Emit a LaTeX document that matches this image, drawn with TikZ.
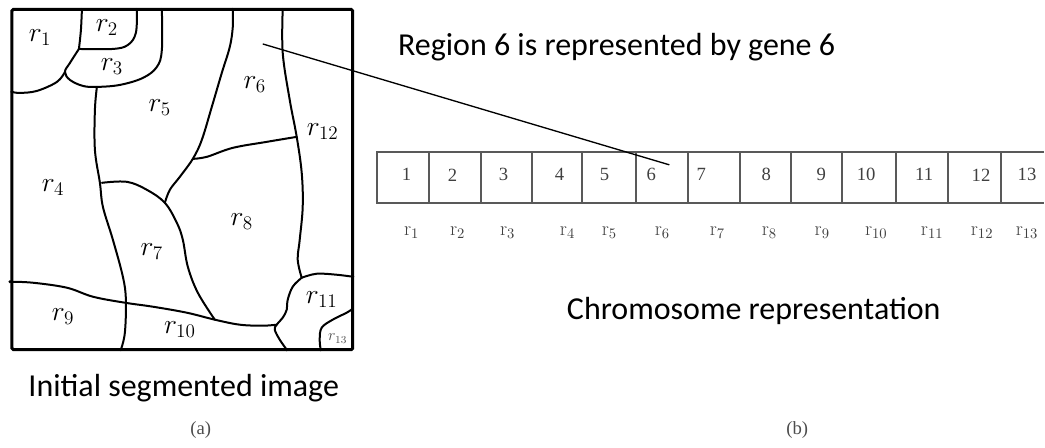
\documentclass[tikz,border=0pt]{standalone}
\usepackage{fontspec}
\newfontfamily\capfont{Carlito}
\newfontfamily\genefont{Liberation Serif}
\tikzset{every picture/.style={line width=0.75pt}}
\tikzset{
  seg/.style={line width=1.5pt, line cap=round, line join=round},
  regionlbl/.style={inner sep=0pt, font=\fontsize{22}{24}\selectfont},
  genenum/.style={inner sep=0pt, text=black!75, font=\genefont\fontsize{14}{16}\selectfont},
  genelbl/.style={inner sep=0pt, text=black!75, font=\genefont\fontsize{15}{16}\selectfont},
  captxt/.style={inner sep=0pt, anchor=base west, font=\capfont\fontsize{24}{26}\selectfont},
  subcap/.style={inner sep=0pt, text=black!70, font=\genefont\fontsize{14}{15}\selectfont},
  junc/.style={circle, fill=black, inner sep=0pt, minimum size=2.5pt}
}

\begin{document}
\begin{tikzpicture}[x=0.75pt,y=0.75pt,yscale=-1,xscale=1]
\path (0,0) rectangle (1045,448); %set diagram size

%Shape: Square [id:frame]
\draw [line width=2.25pt, rounded corners=1pt] (12,9.5) rectangle (353,350);

%Curve Lines: region borders
\draw [seg] plot [smooth, tension=0.6] coordinates {(82,9) (81,30) (79,49)};
\draw [seg] plot [smooth, tension=0.6] coordinates {(79,49) (113,49) (128,45) (136,33) (137,9)};
\draw [seg] plot [smooth, tension=0.6] coordinates {(79,49) (70,63) (65,72) (70,80) (83,86) (97,87) (120,85) (143,78) (157,67) (162,50) (162,9)};
\draw [seg] plot [smooth, tension=0.6] coordinates {(12,92) (20,93) (37,91) (57,82) (65,72)};
\draw [seg] plot [smooth, tension=0.6] coordinates {(97,87) (95,110) (95,150) (100,183) (103,207) (113,240) (123,277) (126,300) (125,333) (121,350)};
\draw [seg] plot [smooth, tension=0.6] coordinates {(102,183) (127,182) (147,190) (165,203) (177,223) (183,240) (188,267) (198,293) (215,320)};
\draw [seg] plot [smooth, tension=0.6] coordinates {(233,9) (233,27) (230,47) (222,73) (212,107) (202,140) (193,159) (180,177) (170,190) (165,203)};
\draw [seg] plot [smooth, tension=0.6] coordinates {(193,159) (207,157) (233,148) (267,142) (297,137)};
\draw [seg] plot [smooth, tension=0.6] coordinates {(283,9) (283,53) (290,100) (297,137) (302,173) (303,207) (300,240) (298,260) (302,278)};
\draw [seg] plot [smooth, tension=0.6] coordinates {(302,278) (317,274) (337,275) (353,277)};
\draw [seg] plot [smooth, tension=0.6] coordinates {(302,278) (293,287) (288,300) (287,310) (283,318) (277,325) (275,330) (280,340) (287,350)};
\draw [seg] plot [smooth, tension=0.6] coordinates {(10,282) (33,283) (67,288) (93,297) (125,303) (153,307) (187,313) (215,320) (240,325) (263,326) (277,325)};
\draw [seg] plot [smooth, tension=0.6] coordinates {(353,309) (347,313) (333,320) (322,328) (320,340) (321,350)};

% junctions on the frame
\foreach \p in {(12,92),(10,282),(121,350),(287,350),(321,350),(353,277)}
  \node [junc] at \p {};

% Text Node: region labels
\node [regionlbl] (r1) at (40,38) {$r_{1}$};
\node [regionlbl] (r2) at (107,28) {$r_{2}$};
\node [regionlbl] (r3) at (112,67) {$r_{3}$};
\node [regionlbl] (r4) at (53,188) {$r_{4}$};
\node [regionlbl] (r5) at (160,108) {$r_{5}$};
\node [regionlbl] (r6) at (255,85) {$r_{6}$};
\node [regionlbl] (r7) at (152,252) {$r_{7}$};
\node [regionlbl] (r8) at (242,222) {$r_{8}$};
\node [regionlbl] (r9) at (63,317) {$r_{9}$};
\node [regionlbl] (r10) at (180,330) {$r_{10}$};
\node [regionlbl] (r11) at (322,300) {$r_{11}$};
\node [regionlbl] (r12) at (323,132) {$r_{12}$};
\node [regionlbl, font=\fontsize{12}{14}\selectfont, text=black!70] (r13) at (338,339) {$r_{13}$};

%Shape: Rect  chromosome (open on the right)
\draw [line width=1.5pt, black!65] (1045,152) -- (377,152) -- (377,203) -- (1045,203);
\foreach \x in {429,481,533,583,637,689,741,792,843,897,949,1002}
  \draw [line width=1.5pt, black!65] (\x,152) -- (\x,203);

% Text Node: genes and their regions
\foreach \n/\gx/\rx in {1/407/412, 2/453/458, 3/504/508, 4/560/568, 5/605/610, 6/652/663, 7/702/718,
                        8/767/770, 9/822/823, 10/867/877, 11/925/933, 12/982/983, 13/1028/1028}{
  \node [genenum] (g\n) at (\gx,175) {\n};
  \node [genelbl] (rl\n) at (\rx,233) {$\mathrm{r}_{\n}$};
}

%Straight Lines: region 6 to gene 6
\coordinate (p6) at (263,44);
\coordinate (q6) at (670,165);
\draw [line width=1pt] (p6) -- (q6);

% Text Node: captions
\node [captxt] (note) at (398,56) {Region 6 is represented by gene 6};
\node [captxt] (capb) at (567,320) {Chromosome representation};
\node [captxt] (capa) at (28,397) {Initial segmented image};
\node [subcap] (suba) at (201,430) {(a)};
\node [subcap] (subb) at (798,430) {(b)};

\end{tikzpicture}
\end{document}
